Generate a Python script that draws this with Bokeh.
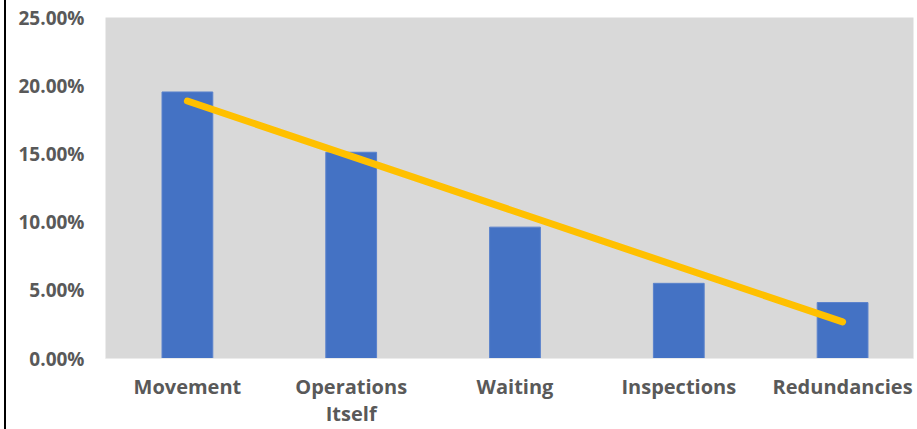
import numpy as np
from bokeh.plotting import figure
from bokeh.models import FixedTicker, NumeralTickFormatter, ColumnDataSource, Range1d, Div
from bokeh.layouts import row
from bokeh.embed import file_html
from bokeh.resources import INLINE

categories = ["Movement", "Operations\nItself", "Waiting", "Inspections", "Redundancies"]
values = [0.1954, 0.1512, 0.0963, 0.0551, 0.0410]
y_ticks = [0.0, 0.05, 0.10, 0.15, 0.20, 0.25]

xs = list(range(1, len(categories) + 1))
slope, intercept = np.polyfit(xs, values, 1)
trend = [slope * x + intercept for x in xs]

src = ColumnDataSource(dict(x=xs, v=values))

p = figure(width=909, height=429, output_backend="svg", toolbar_location=None,
           x_range=Range1d(0.5, 0.5 + 809 / 164), y_range=Range1d(0, 0.25),
           min_border_left=99, min_border_top=17, min_border_bottom=70, min_border_right=2)
p.background_fill_color = "#d9d9d9"
p.border_fill_color = "white"
p.outline_line_color = None
p.grid.grid_line_color = None

p.vbar(x="x", top="v", width=0.31, source=src, fill_color="#4472C4", line_color="#5a82cc", line_width=1)
p.line([xs[0], xs[-1]], [trend[0], trend[-1]], line_color="#FFC000", line_width=7, line_cap="round")

p.xaxis.ticker = FixedTicker(ticks=xs)
p.xaxis.major_label_overrides = {x: c for x, c in zip(xs, categories)}
p.yaxis.ticker = FixedTicker(ticks=y_ticks)
p.yaxis.formatter = NumeralTickFormatter(format="0.00%")

for ax in (p.xaxis[0], p.yaxis[0]):
    ax.major_label_text_font = "Open Sans"
    ax.major_label_text_font_style = "bold"
    ax.major_label_text_font_size = "19px"
    ax.major_label_text_color = "#595959"
    ax.major_tick_line_color = None
    ax.minor_tick_line_color = None
    ax.major_tick_out = 0
    ax.major_tick_in = 0
    ax.minor_tick_out = 0
    ax.minor_tick_in = 0
    ax.axis_line_color = None

p.xaxis.major_label_text_font_size = "20px"
p.xaxis.major_label_text_line_height = 1.0
p.xaxis.axis_line_color = "#ebebeb"
p.xaxis.major_label_standoff = 14
p.yaxis.major_label_standoff = 21

bar = Div(width=6, height=429, styles={"border-right": "2px solid black", "margin": "0", "padding": "0"})
layout = row(bar, p)

open("out.html", "w").write(file_html(layout, INLINE))
